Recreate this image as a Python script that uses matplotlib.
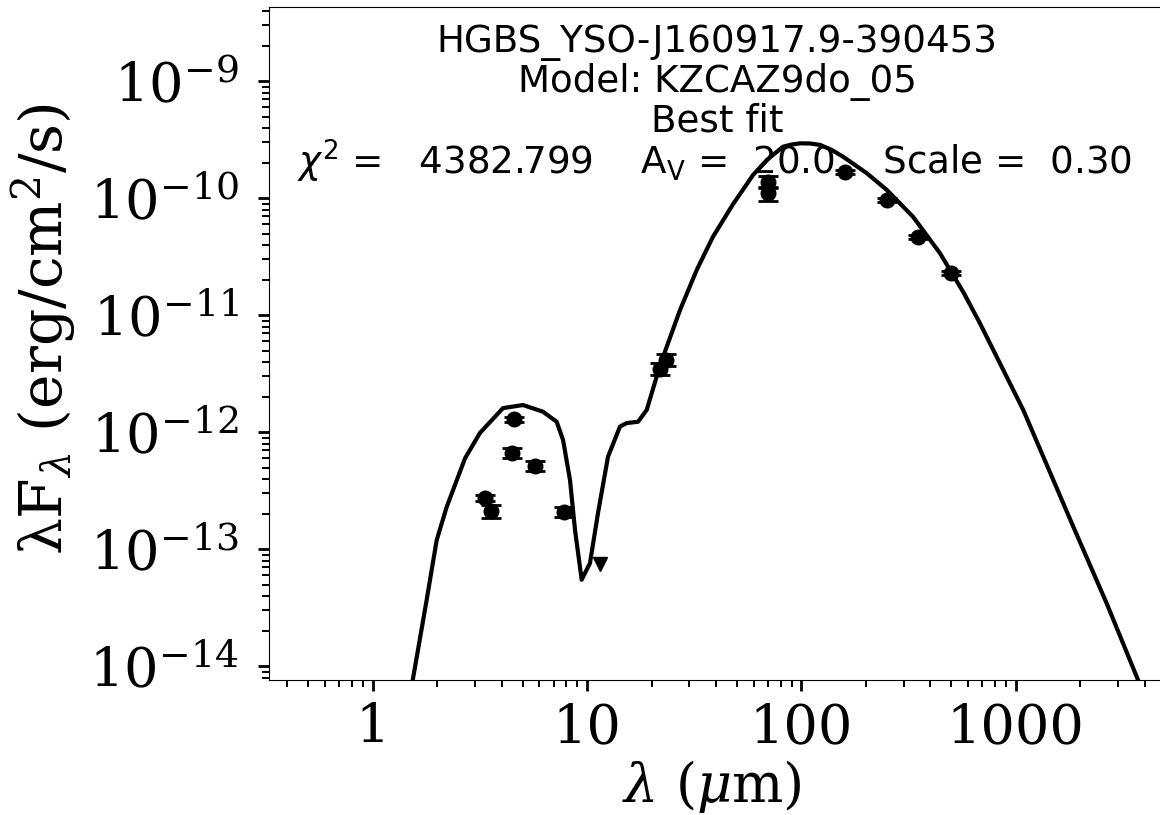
import matplotlib
matplotlib.use("Agg")
import numpy as np
import matplotlib.pyplot as plt
from matplotlib.ticker import FuncFormatter, NullFormatter, LogLocator

# model SED (wavelength in micron, lambda*F_lambda in erg/cm2/s)
model_wav = [1.46, 1.537, 1.786, 1.989, 2.214, 2.697, 3.168, 4.055, 5.027, 6.23,
             7.22, 7.73, 8.33, 8.79, 9.44, 10.32, 11.25, 12.53, 14.25, 15.31,
             17.29, 18.98, 21.14, 22.62, 27.16, 32.49, 38.71, 47.98, 59.48, 68.9,
             82.1, 90.0, 98.6, 110.0, 122.2, 138.0, 156.4, 201.8, 250.2, 331.8,
             443.6, 574, 682, 1085, 1857, 2658, 3670, 4234]
model_flux = [4.5e-15, 7.6e-15, 3.7e-14, 1.2e-13, 2.3e-13, 6.0e-13, 9.9e-13, 1.61e-12, 1.71e-12, 1.50e-12,
              1.23e-12, 8.6e-13, 3.9e-13, 1.46e-13, 5.5e-14, 7.6e-14, 2.04e-13, 6.2e-13, 1.12e-12, 1.20e-12,
              1.23e-12, 1.55e-12, 3.0e-12, 4.4e-12, 1.11e-11, 2.44e-11, 4.70e-11, 8.9e-11, 1.58e-10, 2.12e-10,
              2.76e-10, 2.88e-10, 2.95e-10, 2.94e-10, 2.86e-10, 2.60e-10, 2.27e-10, 1.64e-10, 1.18e-10, 6.96e-11,
              3.39e-11, 1.54e-11, 8.5e-12, 1.55e-12, 1.56e-13, 3.45e-14, 8.15e-15, 4.2e-15]

# photometry
phot_wav = [3.35, 3.55, 4.45, 4.55, 5.7, 7.8, 21.9, 23.4, 70, 70, 160, 250, 350, 500]
phot_flux = [2.75e-13, 2.12e-13, 6.7e-13, 1.29e-12, 5.15e-13, 2.1e-13, 3.5e-12, 4.15e-12,
             1.39e-10, 1.10e-10, 1.69e-10, 9.67e-11, 4.70e-11, 2.29e-11]
phot_relerr = [0.05, 0.13, 0.10, 0.05, 0.10, 0.10, 0.12, 0.12, 0.12, 0.13, 0.04, 0.04, 0.04, 0.04]

# upper limit
ul_wav = [11.55]
ul_flux = [7.5e-14]

yticks = [1e-14, 1e-13, 1e-12, 1e-11, 1e-10, 1e-9]

source = "HGBS_YSO-J160917.9-390453"
model_name = "Model: KZCAZ9do_05"
fit_label = "Best fit"
chi2, av, scale = 4382.799, 20.0, 0.30

plt.rcParams['font.family'] = 'DejaVu Serif'
plt.rcParams['mathtext.fontset'] = 'dejavuserif'

W, H = 1160, 815
fig = plt.figure(figsize=(W / 100, H / 100), dpi=100)
ax = fig.add_axes([269.3 / W, 135 / H, (1165.5 - 269.3) / W, 673 / H])
ax.set_xscale('log')
ax.set_yscale('log')

ax.plot(model_wav, model_flux, color='k', lw=3)
yerr = np.array(phot_flux) * np.array(phot_relerr)
ax.errorbar(phot_wav, phot_flux, yerr=yerr, fmt='o', color='k', ms=10.5,
            capsize=7, capthick=2, elinewidth=2)
ax.plot(ul_wav, ul_flux, 'v', color='k', ms=10.5)

ax.set_xlim(0.3293, 5000)
ax.set_ylim(7.64e-15, 4.315e-9)

ax.set_yticks(yticks)
ax.yaxis.set_minor_locator(LogLocator(base=10, subs=np.arange(2, 10) * 1.0, numticks=100))
ax.xaxis.set_major_formatter(FuncFormatter(lambda v, p: '%g' % v))
ax.xaxis.set_minor_formatter(NullFormatter())
ax.yaxis.set_minor_formatter(NullFormatter())
ax.tick_params(which='major', length=8, width=2, labelsize=39)
ax.tick_params(which='minor', length=5, width=1.4)
ax.tick_params(axis='x', which='major', pad=8)
ax.tick_params(axis='y', which='major', pad=14)

fig.text(78 / W, (H - 555) / H, 'λF$_\\lambda$ (erg/cm$^2$/s)', rotation=90,
         ha='right', va='bottom', fontsize=42)
fig.text(712 / W, 13 / H, '$\\lambda$ ($\\mu$m)', ha='center', va='baseline', fontsize=39)

tk = dict(ha='center', va='baseline', fontsize=26.8, family='DejaVu Sans',
          math_fontfamily='dejavusans')
fig.text(717 / W, 1 - 51.7 / H, source, **tk)
fig.text(717 / W, 1 - 91.7 / H, model_name, **tk)
fig.text(717 / W, 1 - 131.7 / H, fit_label, **tk)
fig.text(715 / W, 1 - 175 / H,
         '$\\chi^2$ =   %.3f    $\\rm A_V$ =  %.1f    Scale =  %.2f' % (chi2, av, scale), **tk)

fig.savefig('out.png', dpi=100)
